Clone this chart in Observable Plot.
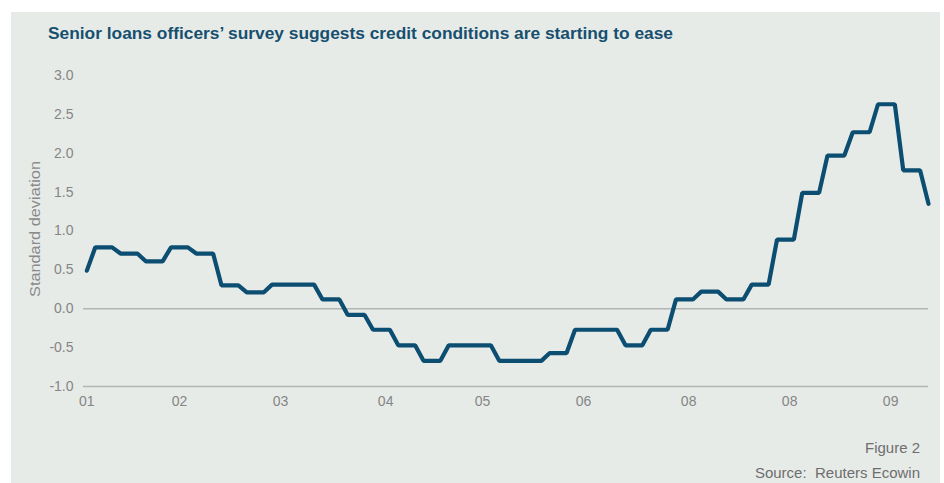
<!DOCTYPE html>
<html><head><meta charset="utf-8">
<script src="https://cdn.jsdelivr.net/npm/d3@7"></script>
<script src="https://cdn.jsdelivr.net/npm/@observablehq/plot@0.6"></script>
<style>
body{margin:0;background:#fff;}
#wrap{position:relative;width:944px;height:483px;overflow:hidden;font-family:"Liberation Sans",Arial,sans-serif;}
#bg{position:absolute;left:11px;top:12px;width:929px;height:471px;background:#e7ebe8;}
#chart{position:absolute;left:0;top:0;}
#ann{position:absolute;left:0;top:0;}
</style></head><body>
<div id="wrap"><div id="bg"></div><div id="chart"></div><svg id="ann" width="944" height="483"></svg></div>
<script>
const title = "Senior loans officers’ survey suggests credit conditions are starting to ease";
const yLabel = "Standard deviation";
const figureNote = "Figure 2";
const sourceNote = "Source:  Reuters Ecowin";
const startValue = 0.49;
const quarterValues = [0.79, 0.71, 0.61, 0.79, 0.71, 0.30, 0.21, 0.31, 0.31, 0.12, -0.08, -0.27,
  -0.47, -0.67, -0.47, -0.47, -0.67, -0.67, -0.57, -0.27, -0.27, -0.47, -0.27, 0.12, 0.22, 0.12,
  0.31, 0.89, 1.49, 1.97, 2.27, 2.63, 1.78];
const endValue = 1.35;
const yTicks = [-1, -0.5, 0, 0.5, 1, 1.5, 2, 2.5, 3];
const xTickMonths = [0, 11, 23, 35.5, 47, 59, 71.5, 83.5, 95.5];
const xTickLabels = ["01", "02", "03", "04", "05", "06", "08", "08", "09"];

const points = [{m: 0, v: startValue}];
quarterValues.forEach((v, i) => { points.push({m: 3 * i + 1, v}, {m: 3 * i + 3, v}); });
points.push({m: 3 * quarterValues.length + 1, v: endValue});

const chart = Plot.plot({
  width: 944, height: 420,
  marginTop: 75, marginBottom: 34, marginLeft: 83, marginRight: 16,
  style: {background: "transparent", fontFamily: "Liberation Sans, Arial, sans-serif", fontSize: "14px", color: "#858585"},
  x: {domain: [-0.4, 100]},
  y: {domain: [-1, 3]},
  marks: [
    Plot.ruleY([0, -1], {stroke: "#b4b4b4", strokeWidth: 1.5}),
    Plot.axisY(yTicks, {tickSize: 0, tickPadding: 10, tickFormat: d => d.toFixed(1), label: null, fill: "#858585"}),
    Plot.axisX(xTickMonths, {tickSize: 0, tickPadding: 10, tickFormat: d => xTickLabels[xTickMonths.indexOf(d)], label: null, fill: "#858585"}),
    Plot.line(points, {x: "m", y: "v", stroke: "#0c4e71", strokeWidth: 4.2, strokeLinejoin: "miter"})
  ]
});
document.getElementById("chart").appendChild(chart);

const ann = d3.select("#ann").style("font-family", "Liberation Sans, Arial, sans-serif");
ann.append("text").attr("x", 48).attr("y", 39).attr("font-size", 16).attr("font-weight", "bold")
  .attr("fill", "#17506f").attr("textLength", 625).attr("lengthAdjust", "spacingAndGlyphs").text(title);
ann.append("text").attr("transform", "translate(40,229) rotate(-90)").attr("text-anchor", "middle")
  .attr("font-size", 15).attr("fill", "#8a8a8a").attr("textLength", 136).attr("lengthAdjust", "spacingAndGlyphs").text(yLabel);
ann.append("text").attr("x", 920).attr("y", 453).attr("text-anchor", "end")
  .attr("font-size", 15).attr("fill", "#6e6e6e").text(figureNote);
ann.append("text").attr("x", 920).attr("y", 478).attr("text-anchor", "end").style("white-space", "pre")
  .attr("font-size", 15).attr("fill", "#6e6e6e").text(sourceNote);
</script>
</body></html>
